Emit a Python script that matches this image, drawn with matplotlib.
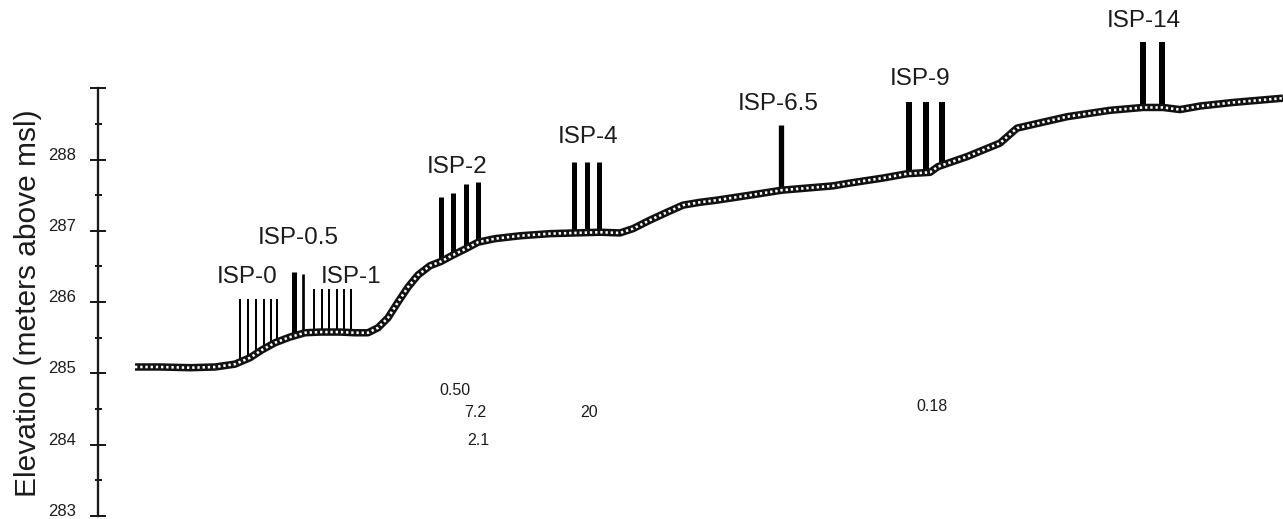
import matplotlib
matplotlib.use("Agg")
import matplotlib.pyplot as plt
import numpy as np

plt.rcParams['font.family'] = ['Liberation Sans', 'DejaVu Sans']

# ---- Data (distance along transect in figure units, elevation in m above msl) ----
profile_x = [135, 160, 190, 215, 235, 250, 262, 275, 290, 305, 320, 340, 355, 368,
             378, 388, 398, 408, 418, 430, 441, 453, 466, 478, 495, 520, 550, 575,
             600, 620, 633, 650, 667, 683, 700, 717, 750, 782, 833, 850, 883, 907,
             930, 938, 967, 1000, 1017, 1067, 1110, 1143, 1163, 1180, 1200, 1233, 1283]
profile_elev = [285.09, 285.09, 285.08, 285.09, 285.13, 285.22, 285.33, 285.43, 285.51,
                285.57, 285.58, 285.58, 285.57, 285.57, 285.64, 285.78, 286.00, 286.21,
                286.38, 286.51, 286.57, 286.66, 286.75, 286.84, 286.89, 286.93, 286.96,
                286.97, 286.98, 286.97, 287.03, 287.15, 287.26, 287.36, 287.40, 287.43,
                287.50, 287.57, 287.63, 287.67, 287.74, 287.80, 287.82, 287.90, 288.04,
                288.23, 288.44, 288.60, 288.69, 288.73, 288.73, 288.70, 288.75, 288.80,
                288.86]

well_names = ["ISP-0", "ISP-0.5", "ISP-1", "ISP-2", "ISP-4", "ISP-6.5", "ISP-9", "ISP-14"]
well_x = [
    [240, 248, 256, 264, 271, 277],
    [294, 303],
    [314, 322, 329, 337, 344, 351],
    [441, 453, 466, 478],
    [574, 587, 599],
    [781],
    [909, 926, 942],
    [1143, 1162],
]
well_top = [
    [286.05, 286.05, 286.05, 286.05, 286.05, 286.05],
    [286.42, 286.39],
    [286.19, 286.19, 286.19, 286.19, 286.19, 286.19],
    [287.48, 287.53, 287.65, 287.68],
    [287.96, 287.96, 287.96],
    [288.48],
    [288.81, 288.81, 288.81],
    [289.65, 289.65],
]

conc_labels = ["0.50", "7.2", "2.1", "20", "0.18"]
conc_x = [455, 475, 478, 589, 932]

ytick_values = [283, 284, 285, 286, 287, 288, 289]

# ---- Layout / style ----
PX = 72 / 100.0  # points per pixel
well_widths_px = [[2] * 6, [5, 2.7], [2] * 6, [5] * 4, [5] * 3, [5.3], [6] * 3, [6] * 2]
label_pos = [(247, 286.35), (298, 286.90), (351, 286.35), (457, 287.89),
             (588, 288.32), (778, 288.78), (920, 289.13), (1144, 289.94)]
conc_y = [284.76, 284.45, 284.06, 284.45, 284.53]
text_color = '#1c1c1c'

fig = plt.figure(figsize=(12.83, 5.19), dpi=100)
ax = fig.add_axes([0, 0, 1, 1])
ax.set_xlim(0, 1283)
ax.set_ylim(282.958, 290.237)

# wells
for xs, tops, ws in zip(well_x, well_top, well_widths_px):
    grounds = np.interp(xs, profile_x, profile_elev)
    for x, g, t, w in zip(xs, grounds, tops, ws):
        ax.vlines(x, g, t, colors='black', linewidth=w * PX, zorder=2)

# ground profile: thick black line with white square dots
ax.plot(profile_x, profile_elev, color='#111111', linewidth=7.5 * PX,
        solid_capstyle='butt', solid_joinstyle='round', zorder=3)
ax.plot(profile_x, profile_elev, color='white', linewidth=2.6 * PX,
        linestyle=(0, (0.9, 1.1)), dash_capstyle='butt', zorder=4)

# well labels
for name, (lx, ly) in zip(well_names, label_pos):
    ax.text(lx, ly, name, ha='center', va='center', fontsize=17.5, color=text_color)

# concentration values
for s, x, y in zip(conc_labels, conc_x, conc_y):
    ax.text(x, y, s, ha='center', va='center', fontsize=11.5, color=text_color)

# y axis
for side in ['top', 'right', 'bottom']:
    ax.spines[side].set_visible(False)
ax.spines['left'].set_position(('data', 98))
ax.spines['left'].set_bounds(283, 289)
ax.spines['left'].set_linewidth(2.3 * PX)
ax.spines['left'].set_color('#1a1a1a')
ax.set_xticks([])
ax.set_yticks(ytick_values)
ax.set_yticklabels([str(v) if v < 289 else '' for v in ytick_values])
ax.set_yticks(np.arange(283.5, 289, 1.0), minor=True)
ax.tick_params(axis='y', which='major', direction='inout', length=16 * PX,
               width=2 * PX, color='#1a1a1a', labelsize=12, labelcolor=text_color,
               pad=8 * PX + 4.5)
ax.tick_params(axis='y', which='minor', direction='inout', length=7 * PX,
               width=2 * PX, color='#1a1a1a')
for lab in ax.get_yticklabels():
    lab.set_verticalalignment('baseline')

ax.set_ylabel("Elevation (meters above msl)", fontsize=21.5, color=text_color,
              va='baseline')
ax.yaxis.set_label_coords(36 / 1283, (519 - 303) / 519)

fig.savefig("out.png", dpi=100, facecolor='white')
